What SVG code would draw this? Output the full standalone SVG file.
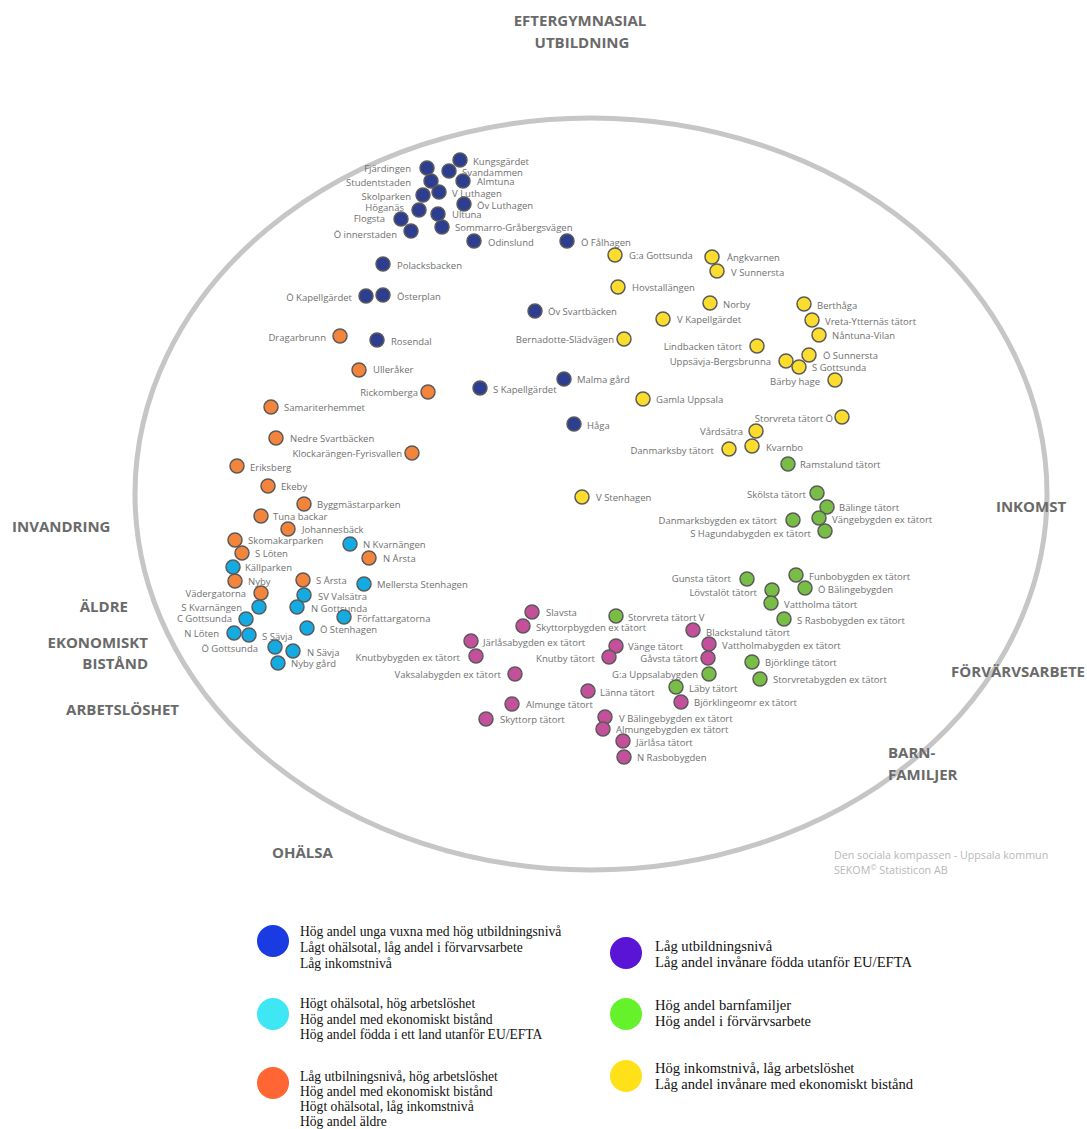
<svg xmlns="http://www.w3.org/2000/svg" width="1087" height="1129" viewBox="0 0 1087 1129">
<style>
.bg{fill:#ffffff}
.ring{fill:none;stroke:#c6c6c6;stroke-width:5}
.ax{font-family:"Open Sans","Liberation Sans",sans-serif;font-weight:bold;font-size:15px;fill:#6a6a6a}
.nd circle{stroke:#5a5a5a;stroke-width:1.5}
.nd text{font-family:"Open Sans","Liberation Sans",sans-serif;font-size:9.5px;fill:#707070}
.nd text.e{text-anchor:end}
.b circle{fill:#2d3e91}
.o circle{fill:#f2843c}
.c circle{fill:#14aae2}
.y circle{fill:#fcdd2e}
.g circle{fill:#78bd45}
.m circle{fill:#c4509b}
.foot{font-family:"Open Sans","Liberation Sans",sans-serif;font-size:10.7px;fill:#b8b8b8}
.lg text{font-family:"Liberation Serif","Times New Roman",serif;font-size:13.6px;fill:#111}
.lg .r text{font-size:14.6px}
</style>
<rect class="bg" x="0" y="0" width="1087" height="1129"/>
<ellipse class="ring" cx="591" cy="494" rx="456" ry="376"/>

<g id="axes">
<text class="ax" x="580" y="26" text-anchor="middle">EFTERGYMNASIAL</text>
<text class="ax" x="582" y="48" text-anchor="middle">UTBILDNING</text>
<text class="ax" x="1031" y="512" text-anchor="middle">INKOMST</text>
<text class="ax" x="12" y="532">INVANDRING</text>
<text class="ax" x="128" y="612" text-anchor="end">ÄLDRE</text>
<text class="ax" x="148" y="648" text-anchor="end">EKONOMISKT</text>
<text class="ax" x="148" y="669" text-anchor="end">BISTÅND</text>
<text class="ax" x="179" y="715" text-anchor="end">ARBETSLÖSHET</text>
<text class="ax" x="1085" y="677" text-anchor="end">FÖRVÄRVSARBETE</text>
<text class="ax" x="888" y="758">BARN-</text>
<text class="ax" x="888" y="780">FAMILJER</text>
<text class="ax" x="272" y="858">OHÄLSA</text>
</g>

<g id="nodes">
<g id="n-kungsgardet" class="nd b"><circle cx="460" cy="160" r="7"/><text x="473" y="164.5">Kungsgärdet</text></g>
<g id="n-svandammen" class="nd b"><circle cx="449" cy="171" r="7"/><text x="462" y="175.5">Svandammen</text></g>
<g id="n-fjardingen" class="nd b"><circle cx="427" cy="168" r="7"/><text class="e" x="411" y="171.5">Fjärdingen</text></g>
<g id="n-almtuna" class="nd b"><circle cx="463" cy="181" r="7"/><text x="477" y="184.5">Almtuna</text></g>
<g id="n-studentstaden" class="nd b"><circle cx="431" cy="181" r="7"/><text class="e" x="411" y="185.5">Studentstaden</text></g>
<g id="n-vluthagen" class="nd b"><circle cx="439" cy="192" r="7"/><text x="452" y="196.5">V Luthagen</text></g>
<g id="n-skolparken" class="nd b"><circle cx="423" cy="195" r="7"/><text class="e" x="411" y="199.5">Skolparken</text></g>
<g id="n-ovluthagen" class="nd b"><circle cx="464" cy="204" r="7"/><text x="477" y="208.5">Öv Luthagen</text></g>
<g id="n-hoganas" class="nd b"><circle cx="419" cy="210" r="7"/><text class="e" x="404" y="210.5">Höganäs</text></g>
<g id="n-ultuna" class="nd b"><circle cx="438" cy="214" r="7"/><text x="452" y="217.5">Ultuna</text></g>
<g id="n-flogsta" class="nd b"><circle cx="401" cy="219" r="7"/><text class="e" x="385" y="221.5">Flogsta</text></g>
<g id="n-sommarro" class="nd b"><circle cx="442" cy="227" r="7"/><text x="455" y="230.5">Sommarro-Gråbergsvägen</text></g>
<g id="n-oinnerstaden" class="nd b"><circle cx="411" cy="231" r="7"/><text class="e" x="397" y="237.5">Ö innerstaden</text></g>
<g id="n-odinslund" class="nd b"><circle cx="474" cy="241" r="7"/><text x="488" y="245.5">Odinslund</text></g>
<g id="n-ofalhagen" class="nd b"><circle cx="567" cy="241" r="7"/><text x="581" y="245.5">Ö Fålhagen</text></g>
<g id="n-polacksbacken" class="nd b"><circle cx="383" cy="264" r="7"/><text x="397" y="268.5">Polacksbacken</text></g>
<g id="n-okapellgardet" class="nd b"><circle cx="366" cy="296" r="7"/><text class="e" x="352" y="300.5">Ö Kapellgärdet</text></g>
<g id="n-osterplan" class="nd b"><circle cx="383" cy="295" r="7"/><text x="397" y="300">Österplan</text></g>
<g id="n-ovsvartbacken" class="nd b"><circle cx="535" cy="311" r="7"/><text x="548" y="314.5">Öv Svartbäcken</text></g>
<g id="n-rosendal" class="nd b"><circle cx="377" cy="340" r="7"/><text x="391" y="344.5">Rosendal</text></g>
<g id="n-skapellgardet" class="nd b"><circle cx="480" cy="388" r="7"/><text x="493" y="392.5">S Kapellgärdet</text></g>
<g id="n-malmagard" class="nd b"><circle cx="564" cy="379" r="7"/><text x="577" y="382.5">Malma gård</text></g>
<g id="n-haga" class="nd b"><circle cx="574" cy="424" r="7"/><text x="587" y="428.5">Håga</text></g>

<g id="n-dragarbrunn" class="nd o"><circle cx="340" cy="336" r="7"/><text class="e" x="326" y="340.5">Dragarbrunn</text></g>
<g id="n-ulleraker" class="nd o"><circle cx="359" cy="370" r="7"/><text x="373" y="372.5">Ulleråker</text></g>
<g id="n-rickomberga" class="nd o"><circle cx="428" cy="392" r="7"/><text class="e" x="418" y="395.5">Rickomberga</text></g>
<g id="n-samariterhemmet" class="nd o"><circle cx="271" cy="407" r="7"/><text x="284" y="410.5">Samariterhemmet</text></g>
<g id="n-nedresvartbacken" class="nd o"><circle cx="276" cy="438" r="7"/><text x="290" y="441.5">Nedre Svartbäcken</text></g>
<g id="n-klockarangen" class="nd o"><circle cx="412" cy="453" r="7"/><text class="e" x="402" y="456.5">Klockarängen-Fyrisvallen</text></g>
<g id="n-eriksberg" class="nd o"><circle cx="237" cy="466" r="7"/><text x="250" y="470.5">Eriksberg</text></g>
<g id="n-ekeby" class="nd o"><circle cx="268" cy="486" r="7"/><text x="281" y="489.5">Ekeby</text></g>
<g id="n-byggmastarparken" class="nd o"><circle cx="304" cy="504" r="7"/><text x="317" y="507.5">Byggmästarparken</text></g>
<g id="n-tunabackar" class="nd o"><circle cx="261" cy="516" r="7"/><text x="273" y="519.5">Tuna backar</text></g>
<g id="n-johannesback" class="nd o"><circle cx="288" cy="529" r="7"/><text x="302" y="532.5">Johannesbäck</text></g>
<g id="n-skomakarparken" class="nd o"><circle cx="235" cy="540" r="7"/><text x="248" y="543.5">Skomakarparken</text></g>
<g id="n-sloten" class="nd o"><circle cx="242" cy="553" r="7"/><text x="255" y="556.5">S Löten</text></g>
<g id="n-narsta" class="nd o"><circle cx="369" cy="558" r="7"/><text x="383" y="561.5">N Årsta</text></g>
<g id="n-nyby" class="nd o"><circle cx="235" cy="581" r="7"/><text x="248" y="584.5">Nyby</text></g>
<g id="n-sarsta" class="nd o"><circle cx="303" cy="580" r="7"/><text x="316" y="583.5">S Årsta</text></g>
<g id="n-vadergatorna" class="nd o"><circle cx="261" cy="593" r="7"/><text class="e" x="246" y="596.5">Vädergatorna</text></g>

<g id="n-nkvarnangen" class="nd c"><circle cx="350" cy="544" r="7"/><text x="363" y="547.5">N Kvarnängen</text></g>
<g id="n-kallparken" class="nd c"><circle cx="233" cy="567" r="7"/><text x="245" y="570.5">Källparken</text></g>
<g id="n-mellerstastenhagen" class="nd c"><circle cx="364" cy="584" r="7"/><text x="377" y="587.5">Mellersta Stenhagen</text></g>
<g id="n-svvalsatra" class="nd c"><circle cx="304" cy="595" r="7"/><text x="318" y="599.5">SV Valsätra</text></g>
<g id="n-skvarnangen" class="nd c"><circle cx="259" cy="607" r="7"/><text class="e" x="242" y="610.5">S Kvarnängen</text></g>
<g id="n-ngottsunda" class="nd c"><circle cx="297" cy="607" r="7"/><text x="311" y="611.5">N Gottsunda</text></g>
<g id="n-forfattargatorna" class="nd c"><circle cx="344" cy="617" r="7"/><text x="357" y="621.5">Författargatorna</text></g>
<g id="n-cgottsunda" class="nd c"><circle cx="246" cy="619" r="7"/><text class="e" x="232" y="621.5">C Gottsunda</text></g>
<g id="n-nloten" class="nd c"><circle cx="234" cy="633" r="7"/><text class="e" x="219" y="636.5">N Löten</text></g>
<g id="n-ssavja" class="nd c"><circle cx="249" cy="635" r="7"/><text x="262" y="639.5">S Sävja</text></g>
<g id="n-ostenhagen" class="nd c"><circle cx="307" cy="628" r="7"/><text x="320" y="632.5">Ö Stenhagen</text></g>
<g id="n-ogottsunda" class="nd c"><circle cx="275" cy="647" r="7"/><text class="e" x="258" y="651.5">Ö Gottsunda</text></g>
<g id="n-nsavja" class="nd c"><circle cx="293" cy="651" r="7"/><text x="307" y="655.5">N Sävja</text></g>
<g id="n-nybygard" class="nd c"><circle cx="278" cy="663" r="7"/><text x="291" y="666.5">Nyby gård</text></g>

<g id="n-gagottsunda" class="nd y"><circle cx="615" cy="255" r="7"/><text x="629" y="258.5">G:a Gottsunda</text></g>
<g id="n-angkvarnen" class="nd y"><circle cx="712" cy="257" r="7"/><text x="727" y="260.5">Ångkvarnen</text></g>
<g id="n-vsunnersta" class="nd y"><circle cx="717" cy="271" r="7"/><text x="731" y="275.5">V Sunnersta</text></g>
<g id="n-hovstallangen" class="nd y"><circle cx="618" cy="287" r="7"/><text x="632" y="290.5">Hovstallängen</text></g>
<g id="n-norby" class="nd y"><circle cx="710" cy="303" r="7"/><text x="723" y="307.5">Norby</text></g>
<g id="n-vkapellgardet" class="nd y"><circle cx="663" cy="319" r="7"/><text x="677" y="322.5">V Kapellgärdet</text></g>
<g id="n-berthaga" class="nd y"><circle cx="804" cy="304" r="7"/><text x="817" y="308.5">Berthåga</text></g>
<g id="n-vretaytternas" class="nd y"><circle cx="812" cy="320" r="7"/><text x="825" y="324.5">Vreta-Ytternäs tätort</text></g>
<g id="n-nantunavilan" class="nd y"><circle cx="819" cy="335" r="7"/><text x="832" y="338.5">Nåntuna-Vilan</text></g>
<g id="n-lindbacken" class="nd y"><circle cx="757" cy="346" r="7"/><text class="e" x="742" y="349.5">Lindbacken tätort</text></g>
<g id="n-osunnersta" class="nd y"><circle cx="809" cy="355" r="7"/><text x="823" y="358.5">Ö Sunnersta</text></g>
<g id="n-uppsavja" class="nd y"><circle cx="786" cy="361" r="7"/><text class="e" x="771" y="364.5">Uppsävja-Bergsbrunna</text></g>
<g id="n-sgottsunda" class="nd y"><circle cx="799" cy="367" r="7"/><text x="812" y="370.5">S Gottsunda</text></g>
<g id="n-barbyhage" class="nd y"><circle cx="835" cy="380" r="7"/><text class="e" x="820" y="384.5">Bärby hage</text></g>
<g id="n-bernadotte" class="nd y"><circle cx="624" cy="339" r="7"/><text class="e" x="614" y="342.5">Bernadotte-Slädvägen</text></g>
<g id="n-gamlauppsala" class="nd y"><circle cx="643" cy="399" r="7"/><text x="656" y="402.5">Gamla Uppsala</text></g>
<g id="n-storvretao" class="nd y"><circle cx="842" cy="417" r="7"/><text class="e" x="833" y="421.5">Storvreta tätort Ö</text></g>
<g id="n-vardsatra" class="nd y"><circle cx="756" cy="431" r="7"/><text class="e" x="743" y="434.5">Vårdsätra</text></g>
<g id="n-kvarnbo" class="nd y"><circle cx="752" cy="446" r="7"/><text x="766" y="450.5">Kvarnbo</text></g>
<g id="n-danmarksby" class="nd y"><circle cx="729" cy="449" r="7"/><text class="e" x="714" y="453.5">Danmarksby tätort</text></g>
<g id="n-vstenhagen" class="nd y"><circle cx="582" cy="497" r="7"/><text x="596" y="500.5">V Stenhagen</text></g>

<g id="n-ramstalund" class="nd g"><circle cx="788" cy="464" r="7"/><text x="800" y="467.5">Ramstalund tätort</text></g>
<g id="n-skolsta" class="nd g"><circle cx="817" cy="493" r="7"/><text class="e" x="806" y="497.5">Skölsta tätort</text></g>
<g id="n-balinge" class="nd g"><circle cx="827" cy="507" r="7"/><text x="839" y="510.5">Bälinge tätort</text></g>
<g id="n-danmarksbygden" class="nd g"><circle cx="793" cy="520" r="7"/><text class="e" x="777" y="523.5">Danmarksbygden ex tätort</text></g>
<g id="n-vangebygden" class="nd g"><circle cx="819" cy="518" r="7"/><text x="832" y="522.5">Vängebygden ex tätort</text></g>
<g id="n-shagundabygden" class="nd g"><circle cx="825" cy="531" r="7"/><text class="e" x="811" y="536.5">S Hagundabygden ex tätort</text></g>
<g id="n-gunsta" class="nd g"><circle cx="747" cy="579" r="7"/><text class="e" x="731" y="581.5">Gunsta tätort</text></g>
<g id="n-funbobygden" class="nd g"><circle cx="796" cy="575" r="7"/><text x="809" y="579.5">Funbobygden ex tätort</text></g>
<g id="n-lovstalot" class="nd g"><circle cx="772" cy="590" r="7"/><text class="e" x="757" y="595.5">Lövstalöt tätort</text></g>
<g id="n-obalingebygden" class="nd g"><circle cx="805" cy="588" r="7"/><text x="818" y="592.5">Ö Bälingebygden</text></g>
<g id="n-vattholma" class="nd g"><circle cx="771" cy="603" r="7"/><text x="784" y="607.5">Vattholma tätort</text></g>
<g id="n-srasbobygden" class="nd g"><circle cx="784" cy="619" r="7"/><text x="797" y="623.5">S Rasbobygden ex tätort</text></g>
<g id="n-bjorklinge" class="nd g"><circle cx="752" cy="662" r="7"/><text x="765" y="665.5">Björklinge tätort</text></g>
<g id="n-storvretabygden" class="nd g"><circle cx="760" cy="679" r="7"/><text x="773" y="682.5">Storvretabygden ex tätort</text></g>
<g id="n-storvretav" class="nd g"><circle cx="616" cy="616" r="7"/><text x="628" y="620.5">Storvreta tätort V</text></g>
<g id="n-gauppsalabygden" class="nd g"><circle cx="709" cy="674" r="7"/><text class="e" x="698" y="677.5">G:a Uppsalabygden</text></g>
<g id="n-laby" class="nd g"><circle cx="676" cy="687" r="7"/><text x="689" y="691.5">Läby tätort</text></g>

<g id="n-slavsta" class="nd m"><circle cx="532" cy="612" r="7"/><text x="546" y="615.5">Slavsta</text></g>
<g id="n-skyttorpbygden" class="nd m"><circle cx="523" cy="626" r="7"/><text x="536" y="630.5">Skyttorpbygden ex tätort</text></g>
<g id="n-blackstalund" class="nd m"><circle cx="693" cy="630" r="7"/><text x="706" y="635.5">Blackstalund tätort</text></g>
<g id="n-jarlasabygden" class="nd m"><circle cx="471" cy="641" r="7"/><text x="483" y="645.5">Järlåsabygden ex tätort</text></g>
<g id="n-vange" class="nd m"><circle cx="616" cy="646" r="7"/><text x="628" y="649.5">Vänge tätort</text></g>
<g id="n-vattholmabygden" class="nd m"><circle cx="709" cy="644" r="7"/><text x="722" y="648.5">Vattholmabygden ex tätort</text></g>
<g id="n-knutbybygden" class="nd m"><circle cx="476" cy="656" r="7"/><text class="e" x="460" y="660.5">Knutbybygden ex tätort</text></g>
<g id="n-knutby" class="nd m"><circle cx="609" cy="657" r="7"/><text class="e" x="595" y="661.5">Knutby tätort</text></g>
<g id="n-gavsta" class="nd m"><circle cx="708" cy="658" r="7"/><text class="e" x="698" y="661.5">Gåvsta tätort</text></g>
<g id="n-vaksalabygden" class="nd m"><circle cx="515" cy="674" r="7"/><text class="e" x="501" y="677.5">Vaksalabygden ex tätort</text></g>
<g id="n-lanna" class="nd m"><circle cx="588" cy="691" r="7"/><text x="600" y="695.5">Länna tätort</text></g>
<g id="n-bjorklingeomr" class="nd m"><circle cx="681" cy="702" r="7"/><text x="694" y="705.5">Björklingeomr ex tätort</text></g>
<g id="n-almunge" class="nd m"><circle cx="512" cy="704" r="7"/><text x="526" y="707.5">Almunge tätort</text></g>
<g id="n-skyttorp" class="nd m"><circle cx="486" cy="719" r="7"/><text x="500" y="722.5">Skyttorp tätort</text></g>
<g id="n-vbalingebygden" class="nd m"><circle cx="605" cy="717" r="7"/><text x="619" y="721.5">V Bälingebygden ex tätort</text></g>
<g id="n-almungebygden" class="nd m"><circle cx="603" cy="729" r="7"/><text x="616" y="732.5">Almungebygden ex tätort</text></g>
<g id="n-jarlasa" class="nd m"><circle cx="623" cy="741" r="7"/><text x="636" y="745.5">Järlåsa tätort</text></g>
<g id="n-nrasbobygden" class="nd m"><circle cx="624" cy="757" r="7"/><text x="637" y="760.5">N Rasbobygden</text></g>
</g>

<g id="footer">
<text class="foot" x="834" y="859">Den sociala kompassen - Uppsala kommun</text>
<text class="foot" x="834" y="874">SEKOM<tspan dy="-4" font-size="7.5">©</tspan><tspan dy="4">  Statisticon AB</tspan></text>
</g>

<g id="legend" class="lg">
<g id="lg-blue"><circle cx="273" cy="941" r="16" fill="#1a3be2"/>
<text x="300" y="936">Hög andel unga vuxna med hög utbildningsnivå</text>
<text x="300" y="952">Lågt ohälsotal, låg andel i förvarvsarbete</text>
<text x="300" y="968">Låg inkomstnivå</text></g>
<g id="lg-cyan"><circle cx="273" cy="1014" r="16" fill="#3fe6f4"/>
<text x="300" y="1008">Högt ohälsotal, hög arbetslöshet</text>
<text x="300" y="1024">Hög andel med ekonomiskt bistånd</text>
<text x="300" y="1039">Hög andel födda i ett land utanför EU/EFTA</text></g>
<g id="lg-orange"><circle cx="273" cy="1083" r="16" fill="#ff6633"/>
<text x="300" y="1081">Låg utbilningsnivå, hög arbetslöshet</text>
<text x="300" y="1096">Hög andel med ekonomiskt bistånd</text>
<text x="300" y="1111">Högt ohälsotal, låg inkomstnivå</text>
<text x="300" y="1126">Hög andel äldre</text></g>
<g id="lg-purple" class="r"><circle cx="626" cy="953" r="16" fill="#5a14d6"/>
<text x="655" y="951">Låg utbildningsnivå</text>
<text x="655" y="967">Låg andel invånare födda utanför EU/EFTA</text></g>
<g id="lg-green" class="r"><circle cx="626" cy="1014" r="16" fill="#66f22a"/>
<text x="655" y="1010">Hög andel barnfamiljer</text>
<text x="655" y="1026">Hög andel i förvärvsarbete</text></g>
<g id="lg-yellow" class="r"><circle cx="626" cy="1076" r="16" fill="#ffe11a"/>
<text x="655" y="1073">Hög inkomstnivå, låg arbetslöshet</text>
<text x="655" y="1089">Låg andel invånare med ekonomiskt bistånd</text></g>
</g>
</svg>
